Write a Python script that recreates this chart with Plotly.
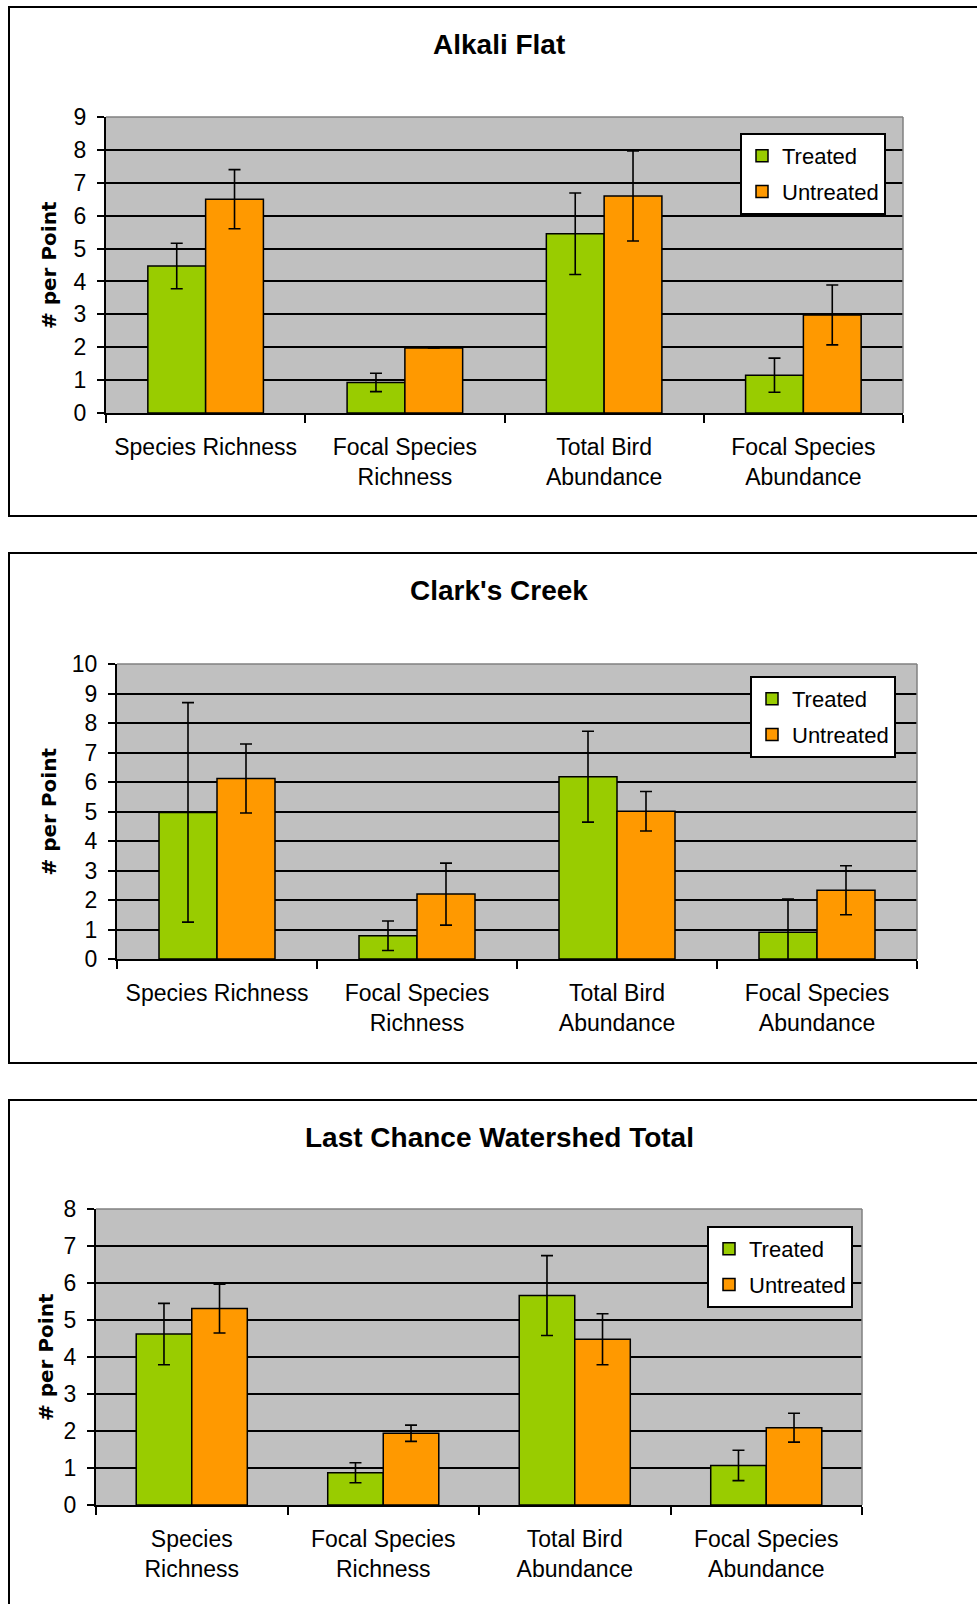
import plotly.graph_objects as go

W, H = 977, 1604

# ---------------- data ----------------
cats_2line = ["Species Richness", "Focal Species<br>Richness", "Total Bird<br>Abundance", "Focal Species<br>Abundance"]
cats_lc = ["Species<br>Richness", "Focal Species<br>Richness", "Total Bird<br>Abundance", "Focal Species<br>Abundance"]

af_treated = [4.47, 0.93, 5.45, 1.15]
af_treated_err = [0.69, 0.28, 1.24, 0.52]
af_untreated = [6.50, 1.98, 6.60, 2.98]
af_untreated_err = [0.90, 0.0, 1.37, 0.91]

cc_treated = [4.97, 0.79, 6.18, 0.91]
cc_treated_err = [3.72, 0.50, 1.54, 1.12]
cc_untreated = [6.12, 2.20, 5.01, 2.33]
cc_untreated_err = [1.17, 1.05, 0.67, 0.83]

lc_treated = [4.62, 0.87, 5.66, 1.07]
lc_treated_err = [0.83, 0.27, 1.08, 0.41]
lc_untreated = [5.31, 1.94, 4.48, 2.09]
lc_untreated_err = [0.66, 0.22, 0.69, 0.39]

titles = ["Alkali Flat", "Clark's Creek", "Last Chance Watershed Total"]
y_max = [9, 10, 8]

GREEN = "#99CC00"
ORANGE = "#FF9900"
PLOT_BG = "#C0C0C0"

# ---------------- layout geometry (pixels) ----------------
plots = [  # x0, x1, ytop, ybottom
    (106, 903, 117, 413),
    (117, 917, 664, 959),
    (96, 862, 1209, 1505),
]
legends = [  # right, top
    (886, 133),
    (896, 676),
    (853, 1226),
]
title_y = [45, 590, 1137]
ytitle_x = [49, 48, 46]
frames = [  # top, bottom
    (7, 516),
    (553, 1063),
    (1100, 1700),
]

def px(x):
    return x / W

def py(y):
    return 1 - y / H

fig = go.Figure()

datasets = [
    (cats_2line, af_treated, af_treated_err, af_untreated, af_untreated_err),
    (cats_2line, cc_treated, cc_treated_err, cc_untreated, cc_untreated_err),
    (cats_lc, lc_treated, lc_treated_err, lc_untreated, lc_untreated_err),
]

font_main = "Arial, Liberation Sans, sans-serif"

for i, (cats, t, te, u, ue) in enumerate(datasets):
    sfx = "" if i == 0 else str(i + 1)
    leg = "legend" if i == 0 else f"legend{i + 1}"
    for name, vals, errs, col in [("Treated", t, te, GREEN), ("Untreated", u, ue, ORANGE)]:
        fig.add_trace(go.Bar(
            x=cats, y=vals, name=name,
            marker=dict(color=col, line=dict(color="black", width=1.5)),
            error_y=dict(type="data", array=errs, visible=True, color="black", thickness=1.6, width=6),
            xaxis="x" + sfx, yaxis="y" + sfx, legend=leg, legendgroup=f"{name}{i}",
        ))

layout = dict(
    width=W, height=H, autosize=False,
    margin=dict(l=0, r=0, t=0, b=0, pad=0, autoexpand=False),
    paper_bgcolor="white",
    plot_bgcolor=PLOT_BG,
    barmode="group", bargap=0.42, bargroupgap=0,
    font=dict(family=font_main, color="black", size=23),
    showlegend=True,
)

shapes = []
annotations = []
for i, (x0, x1, yt, yb) in enumerate(plots):
    sfx = "" if i == 0 else str(i + 1)
    xa = "xaxis" + sfx
    ya = "yaxis" + sfx
    layout[xa] = dict(
        domain=[px(x0), px(x1)], anchor="y" + sfx, automargin=False,
        showline=True, linecolor="black", linewidth=2,
        ticks="outside", tickson="boundaries", ticklen=8, tickwidth=1.5, tickcolor="black",
        showgrid=False, tickfont=dict(size=23, family=font_main), ticklabelstandoff=12,
        fixedrange=True,
    )
    layout[ya] = dict(
        domain=[py(yb), py(yt)], anchor="x" + sfx, automargin=False,
        range=[0, y_max[i]], dtick=1,
        showline=True, linecolor="black", linewidth=2,
        ticks="outside", ticklen=7, tickwidth=1.5, tickcolor="black",
        showgrid=True, gridcolor="black", gridwidth=1.5, zeroline=False,
        tickfont=dict(size=23, family=font_main), ticklabelstandoff=6,
        fixedrange=True,
    )
    leg = "legend" if i == 0 else f"legend{i + 1}"
    lr, lt = legends[i]
    layout[leg] = dict(
        x=px(lr), y=py(lt), xanchor="right", yanchor="top",
        bgcolor="white", bordercolor="black", borderwidth=2,
        font=dict(size=22, family=font_main),
        traceorder="grouped", tracegroupgap=4,
    )
    # gray top / right edge of plot area
    shapes.append(dict(type="line", xref="paper", yref="paper", x0=px(x0), x1=px(x1), y0=py(yt), y1=py(yt),
                       line=dict(color="#808080", width=1.5)))
    shapes.append(dict(type="line", xref="paper", yref="paper", x0=px(x1), x1=px(x1), y0=py(yt), y1=py(yb),
                       line=dict(color="#808080", width=1.5)))
    # outer frame
    ft, fb = frames[i]
    shapes.append(dict(type="rect", xref="paper", yref="paper", x0=px(9), x1=px(1000), y0=py(fb), y1=py(ft),
                       line=dict(color="black", width=2), layer="below"))
    annotations.append(dict(text=f"<b>{titles[i]}</b>", xref="paper", yref="paper", x=px(499), y=py(title_y[i]),
                            xanchor="center", yanchor="middle", showarrow=False,
                            font=dict(size=28, family=font_main, color="black")))
    annotations.append(dict(text="<b># per Point</b>", xref="paper", yref="paper", x=px(ytitle_x[i]),
                            y=py((yt + yb) / 2), xanchor="center", yanchor="middle", textangle=-90,
                            showarrow=False, font=dict(size=20, family="DejaVu Sans, Verdana, sans-serif", color="black")))

layout["shapes"] = shapes
layout["annotations"] = annotations
fig.update_layout(**layout)

fig.write_html("out.html", post_script="document.body.style.margin='0';", config={"displayModeBar": False})
